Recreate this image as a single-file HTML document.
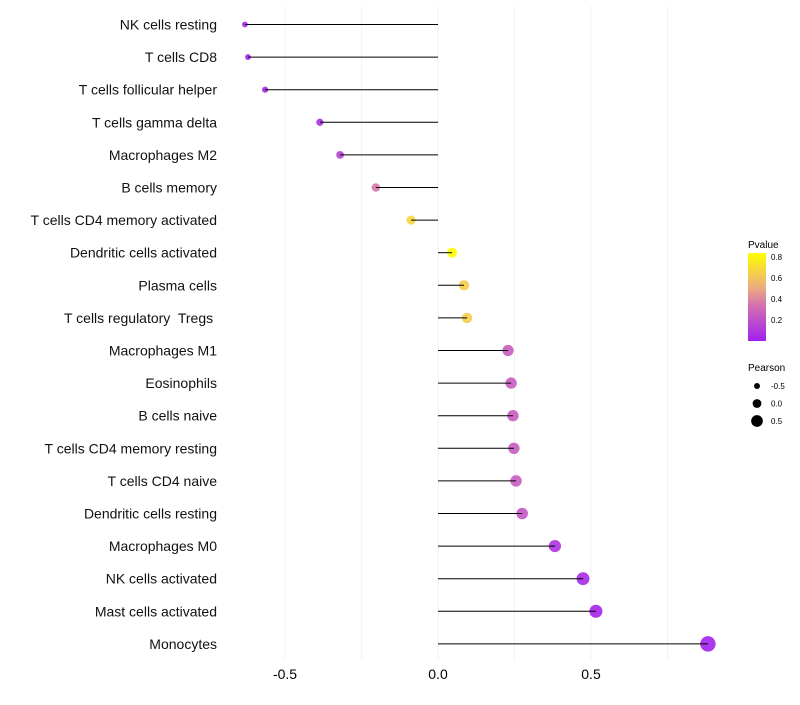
<!DOCTYPE html>
<html><head><meta charset="utf-8"><style>
body{margin:0;background:#fff;font-family:"Liberation Sans",sans-serif}
text{white-space:pre}
</style></head><body>
<svg id="c" width="800" height="700" xmlns="http://www.w3.org/2000/svg"></svg>
<script>
const categories=["NK cells resting","T cells CD8","T cells follicular helper","T cells gamma delta","Macrophages M2","B cells memory","T cells CD4 memory activated","Dendritic cells activated","Plasma cells","T cells regulatory  Tregs ","Macrophages M1","Eosinophils","B cells naive","T cells CD4 memory resting","T cells CD4 naive","Dendritic cells resting","Macrophages M0","NK cells activated","Mast cells activated","Monocytes"];
const pearson=[-0.631,-0.621,-0.565,-0.386,-0.320,-0.203,-0.088,0.046,0.085,0.095,0.229,0.239,0.245,0.248,0.255,0.275,0.382,0.474,0.516,0.882];
const pvalues=[0.02,0.02,0.03,0.1,0.17,0.42,0.72,0.84,0.7,0.7,0.3,0.3,0.3,0.3,0.3,0.27,0.1,0.05,0.03,0.02];
const xTicks=[-0.5,0,0.5];
const gridMinor=[-0.25,0.25,0.75];
const pLegendTicks=[0.2,0.4,0.6,0.8];
const sizeLegend=[-0.5,0,0.5];

const svg=document.getElementById('c');const NS="http://www.w3.org/2000/svg";
function mk(t,a,p){const e=document.createElementNS(NS,t);for(const k in a)e.setAttribute(k,a[k]);(p||svg).appendChild(e);return e;}
const x=v=>438+v*306;
const y=i=>24.5+i*32.6;
const r=v=>4.9+3.2*v;
function lerp(a,b,t){return a.map((c,i)=>Math.round(c+(b[i]-c)*t));}
function col(p){const s=[[0,[160,32,240]],[0.4,[212,112,176]],[0.6,[236,170,130]],[0.84,[255,255,0]]];
 p=Math.max(0,Math.min(0.84,p));for(let i=0;i<s.length-1;i++){if(p<=s[i+1][0]){const c=lerp(s[i][1],s[i+1][1],(p-s[i][0])/(s[i+1][0]-s[i][0]));return `rgb(${c})`;}}return 'rgb(255,255,0)';}
for(const g of gridMinor.concat(xTicks)){const l=mk('line',{x1:x(g),x2:x(g),y1:6,y2:660,stroke:'#f3f3f3','stroke-width':1});

}
xTicks.forEach(t=>{const e=mk('text',{x:x(t),y:679,'font-size':14,'text-anchor':'middle',fill:'#000'});e.textContent=t.toFixed(1);

});
categories.forEach((c,i)=>{
 const t=mk('text',{x:217,y:y(i)+5,'font-size':14,'text-anchor':'end',fill:'#111'});t.textContent=c;
 
 
 const d=mk('circle',{cx:x(pearson[i]),cy:y(i),r:r(pearson[i]),fill:col(pvalues[i]),'fill-opacity':0.9});
 
 
 const l=mk('line',{x1:x(0),x2:x(pearson[i]),y1:y(i),y2:y(i),stroke:'#000','stroke-width':1});
 
 
});
// legend
let t=mk('text',{x:748,y:248,'font-size':10});t.textContent='Pvalue';


const defs=mk('defs',{});const lg=mk('linearGradient',{id:'g',x1:0,y1:1,x2:0,y2:0},defs);
[[0,0],[0.4,0.4],[0.6,0.6],[1,0.84]].forEach(s=>mk('stop',{offset:s[0],'stop-color':col(s[1])},lg));
const bar=mk('rect',{x:748,y:253,width:18,height:88,fill:'url(#g)'});


const py=p=>341-p*105;
pLegendTicks.forEach(p=>{const e=mk('text',{x:771,y:py(p)+3,'font-size':8});e.textContent=p.toFixed(1);

});
t=mk('text',{x:748,y:371,'font-size':10});t.textContent='Pearson';


sizeLegend.forEach((v,i)=>{const cy=386+i*17.5;
 const c=mk('circle',{cx:757,cy:cy,r:r(v)*0.9,fill:'#000'});
 
 
 const e=mk('text',{x:771,y:cy+3,'font-size':8});e.textContent=v.toFixed(1);
 
 });
</script>
</body></html>
